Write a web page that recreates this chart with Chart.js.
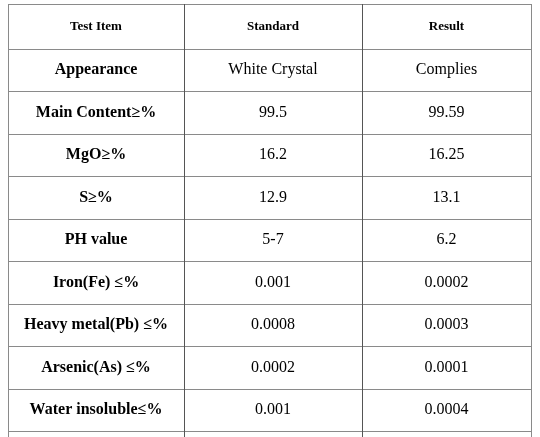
<!DOCTYPE html>
<html><head><meta charset="utf-8">
<script src="https://cdn.jsdelivr.net/npm/chart.js@4"></script>
<style>html,body{margin:0;padding:0;background:#fff}#w{width:540px;height:437px}</style>
</head><body><div id="w"><canvas id="c"></canvas></div>
<script>
const headers = ["Test Item", "Standard", "Result"];
const items = ["Appearance", "Main Content≥%", "MgO≥%", "S≥%", "PH value", "Iron(Fe) ≤%", "Heavy metal(Pb) ≤%", "Arsenic(As) ≤%", "Water insoluble≤%"];
const standard = ["White Crystal", "99.5", "16.2", "12.9", "5-7", "0.001", "0.0008", "0.0002", "0.001"];
const result = ["Complies", "99.59", "16.25", "13.1", "6.2", "0.0002", "0.0003", "0.0001", "0.0004"];
const colEdges = [0, 176, 354, 523];

const tablePlugin = {
  id: 'table',
  afterDraw(chart) {
    const ctx = chart.ctx, xs = chart.scales.x, ys = chart.scales.y;
    const X = v => xs.getPixelForValue(v), Y = v => ys.getPixelForValue(v);
    ctx.save();
    ctx.lineWidth = 1;
    // horizontal lines
    ctx.strokeStyle = '#8a8a8a';
    for (let r = -1.06; r <= items.length + 0.001; r = (r < 0 ? 0 : r + 1)) {
      const y = Math.round(Y(r)) + 0.5;
      ctx.beginPath(); ctx.moveTo(X(colEdges[0]), y); ctx.lineTo(X(colEdges[3]) + 1, y); ctx.stroke();
    }
    // vertical lines
    colEdges.forEach((c, i) => {
      ctx.strokeStyle = (i === 1 || i === 2) ? '#555' : '#8a8a8a';
      const x = Math.round(X(c)) + 0.5;
      ctx.beginPath(); ctx.moveTo(x, Y(-1.06)); ctx.lineTo(x, chart.height); ctx.stroke();
    });
    ctx.fillStyle = '#000';
    ctx.textAlign = 'center'; ctx.textBaseline = 'middle';
    const cx = i => X((colEdges[i] + colEdges[i + 1]) / 2);
    ctx.font = 'bold 13px "Liberation Serif"';
    headers.forEach((h, i) => ctx.fillText(h, cx(i), Y(-0.53)));
    items.forEach((t, r) => {
      const y = Y(r + 0.5);
      ctx.font = 'bold 16px "Liberation Serif"';
      ctx.fillText(t, cx(0), y);
      ctx.font = '16px "Liberation Serif"';
      ctx.fillText(standard[r], cx(1), y);
      ctx.fillText(result[r], cx(2), y);
    });
    ctx.restore();
  }
};

new Chart(document.getElementById('c'), {
  type: 'scatter',
  data: { datasets: [{ data: [] }] },
  options: {
    responsive: true, maintainAspectRatio: false, animation: false,
    layout: { padding: { left: 8, top: 4, right: 0, bottom: 0 } },
    plugins: { legend: { display: false }, tooltip: { enabled: false } },
    scales: {
      x: { type: 'linear', min: 0, max: 532, display: false },
      y: { type: 'linear', min: -1.06, max: 9.14, reverse: true, display: false }
    }
  },
  plugins: [tablePlugin]
});
</script></body></html>
